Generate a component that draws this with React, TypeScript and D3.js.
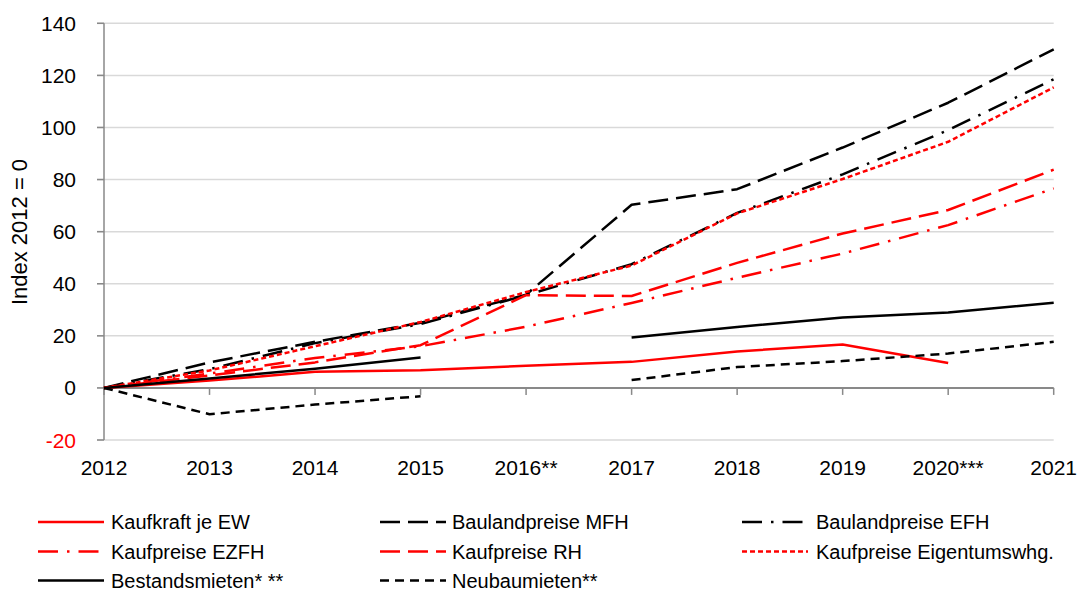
import React from "react";
import * as d3 from "d3";

const years = ["2012", "2013", "2014", "2015", "2016**", "2017", "2018", "2019", "2020***", "2021"];
const yTicks = [-20, 0, 20, 40, 60, 80, 100, 120, 140];

const kaufkraft = [0, 2.8, 6.2, 6.8, 8.5, 10, 14, 16.7, 9.6, null];
const baulandMFH = [0, 9.8, 17.7, 25, 35.8, 70.3, 76.3, 92.3, 109.5, 130];
const baulandEFH = [0, 7.2, 17.2, 24.5, 35.6, 47.5, 67.2, 82, 99, 118.5];
const kaufEZFH = [0, 5.5, 11.5, 16, 23.5, 32.6, 42.3, 51.6, 62.5, 76.6];
const kaufRH = [0, 4.8, 9.8, 16.4, 35.6, 35.3, 48, 59.3, 68.3, 83.8];
const kaufETW = [0, 6.7, 16, 25.3, 36.8, 47, 67, 80.2, 94.5, 115.4];
const bestandsmieten = [0, 3.6, 7.4, 11.7, null, 19.4, 23.4, 27, 29, 32.7];
const neubaumieten = [0, -10.1, -6.4, -3.2, null, 3, 8, 10.3, 13.2, 17.7];

type Series = { name: string; values: (number | null)[]; color: string; dash: string };

const series: Series[] = [
  { name: "Kaufkraft je EW", values: kaufkraft, color: "#ff0000", dash: "" },
  { name: "Baulandpreise MFH", values: baulandMFH, color: "#000000", dash: "20,8" },
  { name: "Baulandpreise EFH", values: baulandEFH, color: "#000000", dash: "20,9,2.5,9" },
  { name: "Kaufpreise EZFH", values: kaufEZFH, color: "#ff0000", dash: "20,9,2.5,9" },
  { name: "Kaufpreise RH", values: kaufRH, color: "#ff0000", dash: "20,8" },
  { name: "Kaufpreise Eigentumswhg.", values: kaufETW, color: "#ff0000", dash: "5,3" },
  { name: "Bestandsmieten* **", values: bestandsmieten, color: "#000000", dash: "" },
  { name: "Neubaumieten**", values: neubaumieten, color: "#000000", dash: "9,6" },
];

const FONT = "'Liberation Sans', Arial, sans-serif";

export default function App() {
  const left = 104;
  const right = 1053.7;
  const top = 23.3;
  const bottom = 440;

  const x = d3.scalePoint<string>().domain(years).range([left, right]);
  const y = d3.scaleLinear().domain([-20, 140]).range([bottom, top]);

  const line = d3
    .line<number | null>()
    .defined((d) => d !== null)
    .x((_, i) => x(years[i]) as number)
    .y((d) => y(d as number))
    .curve(d3.curveLinear);

  const legendCols = [38, 380, 742];
  const legendRows = [522, 551.5, 580.5];

  return (
    <svg
      width={1086}
      height={590}
      style={{ position: "absolute", left: 0, top: 0, background: "#fff" }}
      fontFamily={FONT}
    >
      {yTicks.map((t) => (
        <line key={"g" + t} x1={left - 7} x2={right} y1={y(t)} y2={y(t)} stroke="#d9d9d9" strokeWidth={1.5} />
      ))}
      <line x1={left} x2={left} y1={top} y2={bottom} stroke="#898989" strokeWidth={1.5} />
      {yTicks.map((t) => (
        <g key={"yt" + t}>
          <line x1={left - 7} x2={left} y1={y(t)} y2={y(t)} stroke="#898989" strokeWidth={1.5} />
          <text
            x={76}
            y={y(t) + 7.5}
            textAnchor="end"
            fontSize={21}
            fill={t < 0 ? "#ff0000" : "#000"}
          >
            {t}
          </text>
        </g>
      ))}
      <line x1={left} x2={right} y1={y(0)} y2={y(0)} stroke="#898989" strokeWidth={2} />
      {years.map((yr) => (
        <g key={"xt" + yr}>
          <line x1={x(yr)} x2={x(yr)} y1={y(0)} y2={y(0) + 7} stroke="#898989" strokeWidth={1.5} />
          <text x={x(yr)} y={475} textAnchor="middle" fontSize={21} fill="#000">
            {yr}
          </text>
        </g>
      ))}
      <text
        transform={`translate(27,232) rotate(-90)`}
        textAnchor="middle"
        fontSize={22}
        fill="#000"
      >
        Index 2012 = 0
      </text>
      {series.map((s) => (
        <path
          key={s.name}
          d={line(s.values) || ""}
          fill="none"
          stroke={s.color}
          strokeWidth={2.5}
          strokeLinejoin="round"
          strokeDasharray={s.dash || undefined}
        />
      ))}
      {series.map((s, i) => {
        const col = i % 3;
        const row = Math.floor(i / 3);
        const lx = legendCols[col];
        const ly = legendRows[row];
        const textX = [111, 452, 816][col];
        return (
          <g key={"lg" + s.name}>
            <line
              x1={lx}
              x2={lx + 66}
              y1={ly}
              y2={ly}
              stroke={s.color}
              strokeWidth={2.5}
              strokeDasharray={s.dash || undefined}
            />
            <text x={textX} y={ly + 7} fontSize={20} fill="#000">
              {s.name}
            </text>
          </g>
        );
      })}
    </svg>
  );
}
